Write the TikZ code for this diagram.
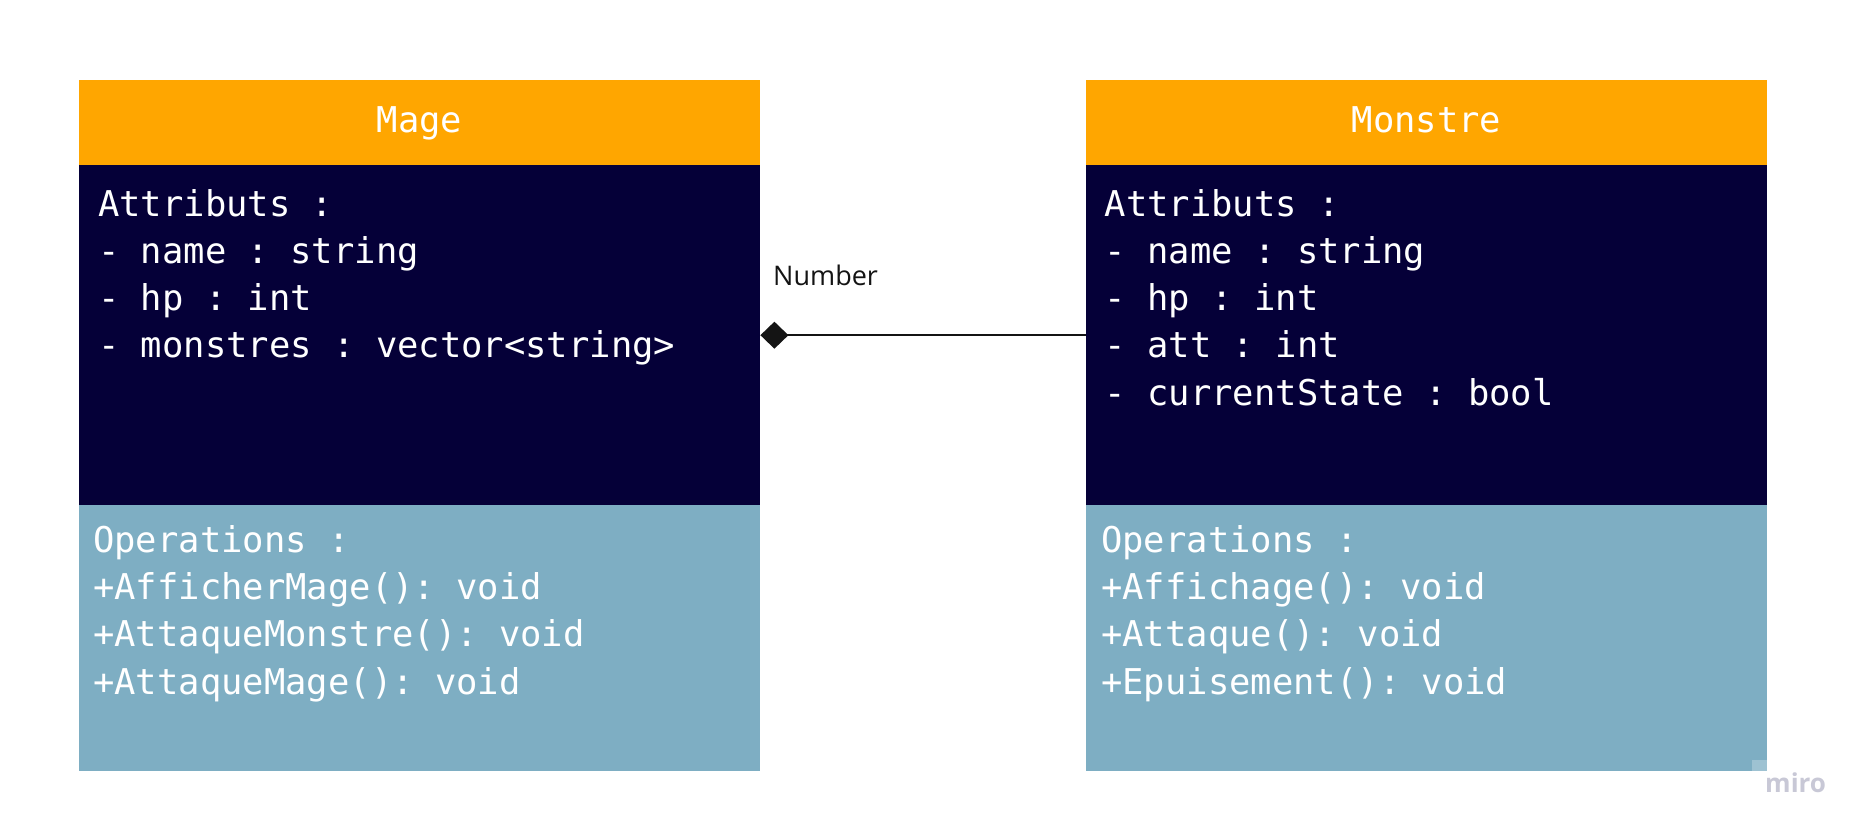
\documentclass[tikz,border=0pt]{standalone}
\usepackage{fontspec}
\setmonofont{DejaVu Sans Mono}
\newfontfamily\labelfont{Open Sans}
\usetikzlibrary{arrows.meta}
\definecolor{headorange}{RGB}{255,166,0}
\definecolor{navy}{RGB}{5,0,56}
\definecolor{opblue}{RGB}{126,174,195}
\definecolor{mirogray}{RGB}{200,200,214}
\definecolor{linegray}{RGB}{20,20,20}
\begin{document}
\begin{tikzpicture}[x=1pt,y=-1pt,
  sect/.style={draw=none, inner sep=0pt, minimum width=681pt, anchor=north west},
  headsect/.style={sect, fill=headorange, minimum height=85pt},
  attrsect/.style={sect, fill=navy, minimum height=340pt},
  opsect/.style={sect, fill=opblue, minimum height=266pt},
  txt/.style={anchor=base west, inner sep=0pt, text=white, font=\ttfamily\fontsize{35.5}{40}\selectfont},
  title/.style={txt, anchor=base},
  assoc/.style={line width=2pt, draw=linegray, {Diamond[length=28pt,width=27pt]}-}
]
\useasboundingbox (0,0) rectangle (1868,836);
\fill[white] (0,0) rectangle (1868,836);

% Mage class
\node[headsect] (mageHead) at (79,80) {};
\node[attrsect] (mageAttr) at (79,165) {};
\node[opsect] (mageOps) at (79,505) {};
\node[title] (mageTitle) at (419.5,132) {Mage};
\node[txt] (ma0) at (98,216) {Attributs :};
\node[txt] (ma1) at (98,263) {- name : string};
\node[txt] (ma2) at (98,310) {- hp : int};
\node[txt] (ma3) at (98,357) {- monstres : vector<string>};
\node[txt] (mo0) at (93,552) {Operations :};
\node[txt] (mo1) at (93,599) {+AfficherMage(): void};
\node[txt] (mo2) at (93,646.5) {+AttaqueMonstre(): void};
\node[txt] (mo3) at (93,694) {+AttaqueMage(): void};

% Monstre class
\node[headsect] (monHead) at (1086,80) {};
\node[attrsect] (monAttr) at (1086,165) {};
\node[opsect] (monOps) at (1086,505) {};
\node[title] (monTitle) at (1426.5,132) {Monstre};
\node[txt] (na0) at (1104.5,216) {Attributs :};
\node[txt] (na1) at (1104.5,263) {- name : string};
\node[txt] (na2) at (1104.5,310) {- hp : int};
\node[txt] (na3) at (1104.5,357) {- att : int};
\node[txt] (na4) at (1104.5,405) {- currentState : bool};
\node[txt] (no0) at (1101,552) {Operations :};
\node[txt] (no1) at (1101,599) {+Affichage(): void};
\node[txt] (no2) at (1101,646.5) {+Attaque(): void};
\node[txt] (no3) at (1101,694) {+Epuisement(): void};

% association
\draw[assoc] (mageAttr.east) -- (monAttr.west);
\node[anchor=base west, inner sep=0pt, text=linegray, font=\labelfont\fontsize{27}{30}\selectfont] (numLabel) at (773,285) {Number};

% watermark
\fill[opblue!75!white] (1752,760) rectangle (1767,771);
\node[anchor=base west, inner sep=0pt, text=mirogray, font=\labelfont\bfseries\fontsize{26}{28}\selectfont] (miro) at (1765,792) {miro};
\end{tikzpicture}
\end{document}
